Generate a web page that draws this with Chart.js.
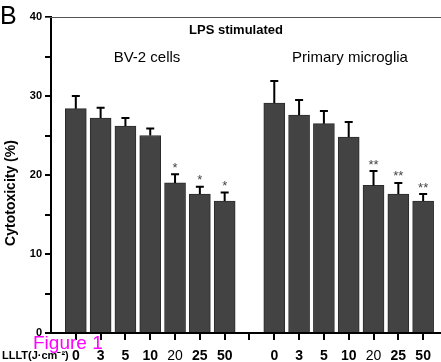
<!DOCTYPE html>
<html>
<head>
<meta charset="utf-8">
<script src="https://cdn.jsdelivr.net/npm/chart.js@4/dist/chart.umd.min.js"></script>
<style>
  html, body { margin: 0; padding: 0; background: #fff; }
  canvas { display: block; }
</style>
</head>
<body>
<canvas id="cytoChart" width="441" height="362"></canvas>
<script>
const doses = ['0', '3', '5', '10', '20', '25', '50'];
const tickLabels = [...doses, '', ...doses];

const bv2Values = [28.4, 27.2, 26.2, 25.0, 19.0, 17.6, 16.7];
const bv2Errors = [1.6, 1.3, 1.0, 0.9, 1.1, 0.9, 1.1];
const bv2Marks = ['', '', '', '', '*', '*', '*'];

const microgliaValues = [29.1, 27.6, 26.5, 24.8, 18.7, 17.6, 16.7];
const microgliaErrors = [2.8, 1.9, 1.6, 1.9, 1.8, 1.4, 0.9];
const microgliaMarks = ['', '', '', '', '**', '**', '**'];

const yTicks = [0, 5, 10, 15, 20, 25, 30, 35, 40];

const FONT = "'Liberation Sans', Arial, sans-serif";

// bv-2 sits at 0..6, microglia at 8..14 (7 is the gap)
const points = [];
const errors = [];
const marks = [];
bv2Values.forEach((v, i) => { points.push({ x: i, y: v }); errors.push(bv2Errors[i]); marks.push(bv2Marks[i]); });
microgliaValues.forEach((v, i) => { points.push({ x: i + 8, y: v }); errors.push(microgliaErrors[i]); marks.push(microgliaMarks[i]); });

const extras = {
    id: 'extras',
    afterDatasetsDraw(chart) {
        const { ctx, chartArea, scales: { y } } = chart;
        const meta = chart.getDatasetMeta(0);
        ctx.save();
        ctx.strokeStyle = '#000';
        ctx.lineWidth = 2;
        meta.data.forEach((bar, i) => {
            const top = y.getPixelForValue(points[i].y + errors[i]);
            ctx.beginPath();
            ctx.moveTo(bar.x, bar.y);
            ctx.lineTo(bar.x, top);
            ctx.moveTo(bar.x - 4, top);
            ctx.lineTo(bar.x + 4, top);
            ctx.stroke();
            if (marks[i]) {
                ctx.fillStyle = '#444';
                ctx.font = '13px ' + FONT;
                ctx.textAlign = 'center';
                ctx.textBaseline = 'middle';
                ctx.fillText(marks[i], bar.x, top - 6);
            }
        });

        // top frame line
        ctx.strokeStyle = '#555';
        ctx.lineWidth = 1;
        ctx.beginPath();
        ctx.moveTo(chartArea.left - 6, chartArea.top + 0.5);
        ctx.lineTo(chartArea.right, chartArea.top + 0.5);
        ctx.stroke();

        ctx.fillStyle = '#000';
        ctx.textBaseline = 'middle';
        ctx.textAlign = 'center';
        ctx.font = 'bold 13px ' + FONT;
        ctx.fillText('LPS stimulated', 236, 30);
        ctx.font = '15px ' + FONT;
        ctx.fillText('BV-2 cells', 147, 58);
        ctx.fillText('Primary microglia', 350, 58);

        ctx.textAlign = 'left';
        ctx.font = '25px ' + FONT;
        ctx.fillText('B', 0, 17);

        ctx.font = 'bold 11px ' + FONT;
        ctx.fillText('LLLT(J\u00b7cm\u207b\u00b2)', 2, 356);

        ctx.save();
        ctx.translate(11, 193);
        ctx.rotate(-Math.PI / 2);
        ctx.textAlign = 'center';
        ctx.font = 'bold 14px ' + FONT;
        ctx.fillText('Cytotoxicity (%)', 0, 0);
        ctx.restore();

        ctx.fillStyle = '#ff00ff';
        ctx.font = '19px ' + FONT;
        ctx.textBaseline = 'alphabetic';
        ctx.fillText('Figure 1', 33, 349);
        ctx.restore();
    }
};

new Chart(document.getElementById('cytoChart').getContext('2d'), {
    type: 'bar',
    data: {
        datasets: [{
            data: points,
            backgroundColor: '#434343',
            borderColor: '#2b2b2b',
            borderWidth: 1,
            barThickness: 21
        }]
    },
    options: {
        responsive: false,
        animation: false,
        layout: { padding: { top: 17, left: 0, right: 0, bottom: 0 } },
        plugins: {
            legend: { display: false },
            tooltip: { enabled: false }
        },
        scales: {
            x: {
                type: 'linear',
                offset: false,
                min: -1,
                max: 14.72,
                afterBuildTicks: s => { s.ticks = tickLabels.map((_, i) => ({ value: i })); },
                afterFit: s => { s.height = 29; },
                border: { color: '#000', width: 2 },
                grid: { offset: false, drawOnChartArea: false, color: '#000', lineWidth: 2, tickLength: 7 },
                ticks: {
                    autoSkip: false,
                    maxRotation: 0,
                    padding: 8,
                    color: '#000',
                    callback: v => tickLabels[v] ?? '',
                    font: c => ({ family: FONT, size: 14, weight: c.tick && c.tick.label === '20' ? 'normal' : 'bold' })
                }
            },
            y: {
                min: 0,
                max: 40,
                afterBuildTicks: s => { s.ticks = yTicks.map(v => ({ value: v })); },
                afterFit: s => { s.width = 51; },
                border: { color: '#000', width: 2 },
                grid: { drawOnChartArea: false, color: '#000', lineWidth: 2, tickLength: 6 },
                ticks: {
                    padding: 3,
                    color: '#000',
                    callback: v => (v % 10 === 0 ? v : ''),
                    font: { family: FONT, size: 11, weight: 'bold' }
                }
            }
        }
    },
    plugins: [extras]
});
</script>
</body>
</html>
